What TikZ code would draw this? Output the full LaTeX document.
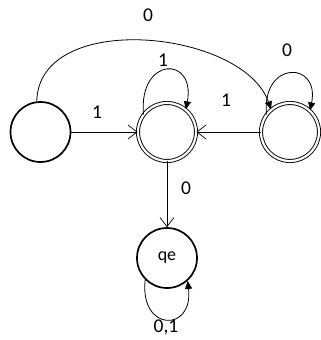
\documentclass[tikz,border=0pt]{standalone}
\usepackage{fontspec}
\setmainfont{Carlito}
\usetikzlibrary{arrows.meta}
\begin{document}
\begin{tikzpicture}[x=1pt,y=-1pt,
  plainstate/.style={circle,draw,line width=1.7pt,minimum size=60pt,inner sep=0pt},
  finalstate/.style={circle,draw,double,line width=0.9pt,double distance=2.2pt,minimum size=58pt,inner sep=0pt},
  openarrow/.style={line width=0.8pt,-{Straight Barb[length=9pt,width=14pt,line width=0.7pt]}},
  looparrow/.style={line width=0.8pt,-{Triangle[length=8pt,width=7pt]}},
  lbl/.style={font=\fontsize{19.5}{21}\selectfont,text=black,inner sep=0pt}]
\useasboundingbox (0,0) rectangle (321,340);

% states
\node[plainstate] (q0) at (40.5,132) {};
\node[finalstate] (q1) at (167,132) {};
\node[finalstate] (q2) at (290,132) {};
\node[plainstate] (qe) at (167,258) {\fontsize{18}{20}\selectfont qe};

% straight transitions
\draw[openarrow] (q0) -- (q1);
\draw[openarrow] (q2) -- (q1);
\draw[openarrow] (q1) -- (qe);

% long arc from the start state over to q2
\draw[looparrow] (q0.97) .. controls +(2,-92) and +(-28,-80) .. (q2.130);

% self loops
\draw[looparrow] (q1.143) .. controls +(-5,-58) and +(10,-54) .. (q1.50);
\draw[looparrow] (q2.143) .. controls +(-5,-54) and +(10,-50) .. (q2.47);
\draw[looparrow] (qe.225) .. controls +(-6,52) and +(6,52) .. (qe.-48);

% transition labels
\node[lbl] (l01) at (97,112) {1};
\node[lbl] (l21) at (226,100) {1};
\node[lbl] (l1e) at (186,188) {0};
\node[lbl] (l02) at (148,15) {0};
\node[lbl] (l11) at (163,60) {1};
\node[lbl] (l22) at (287,50) {0};
\node[lbl] (lee) at (166,327) {0,1};
\end{tikzpicture}
\end{document}
